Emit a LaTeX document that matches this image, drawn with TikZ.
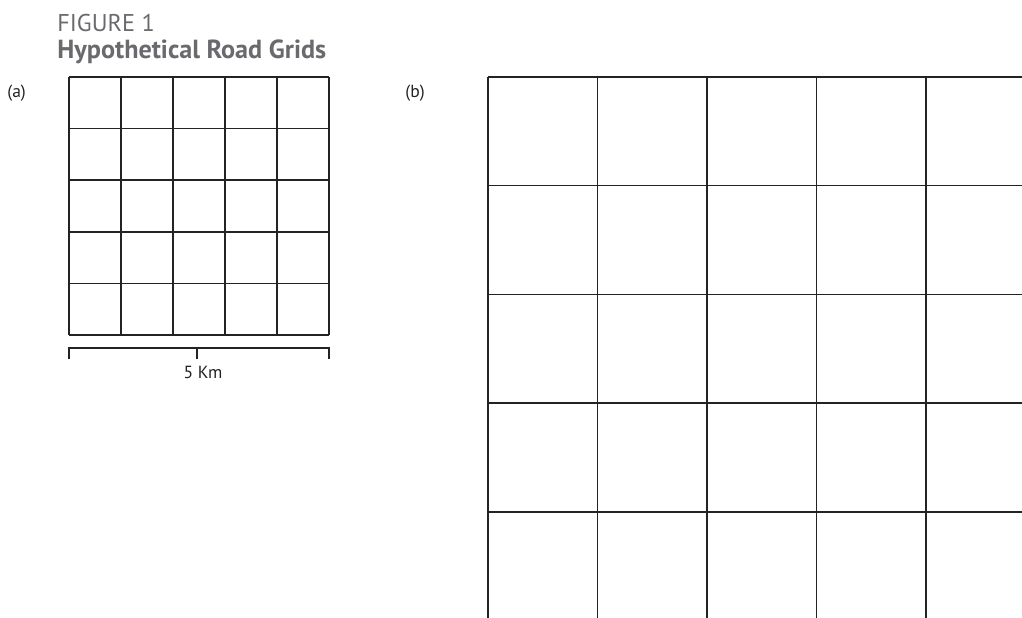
\documentclass[tikz,border=0pt]{standalone}
\usepackage{fontspec}
\setmainfont{PT Sans}
\usetikzlibrary{positioning}
\definecolor{figgray}{RGB}{105,105,110}
\definecolor{gridline}{RGB}{35,35,35}

\begin{document}
\begin{tikzpicture}[x=0.2mm, y=-0.2mm,
  grid/.style={gridline, line width=0.85pt},
  lbl/.style={text=gridline, font=\fontsize{10}{12}\selectfont, inner sep=0pt}]
  \useasboundingbox (0,0) rectangle (1022,617);
  \node[anchor=base west, inner sep=0pt, text=figgray, font=\fontsize{13.8}{16}\selectfont] (fignum) at (57,31) {FIGURE 1};
  \node[anchor=base west, inner sep=0pt, text=figgray, font=\bfseries\fontsize{14.9}{17}\selectfont] (title) at (57,58) {Hypothetical Road Grids};
  \node[lbl, anchor=base west] (lbla) at (7,97) {(a)};
  \node[lbl, anchor=base east] (lblb) at (425,97) {(b)};
  % small grid
  \foreach \i in {0,...,5} {
    \draw[grid] ({69+52*\i},77) -- ({69+52*\i},335);
    \draw[grid] (69,{77+51.6*\i}) -- (329,{77+51.6*\i});
  }
  \draw[grid] (69,359) -- (69,348) -- (329,348) -- (329,359);
  \draw[grid] (197,348) -- (197,359);
  \node[lbl, anchor=base] (scale) at (203,378) {5 Km};
  % large grid
  \begin{scope}
    \clip (0,0) rectangle (1022,617);
    \foreach \i in {0,...,5} {
      \draw[grid] ({488+109.5*\i},77) -- ({488+109.5*\i},640);
      \draw[grid] (488,{77+108.7*\i}) -- (1040,{77+108.7*\i});
    }
  \end{scope}
\end{tikzpicture}
\end{document}
